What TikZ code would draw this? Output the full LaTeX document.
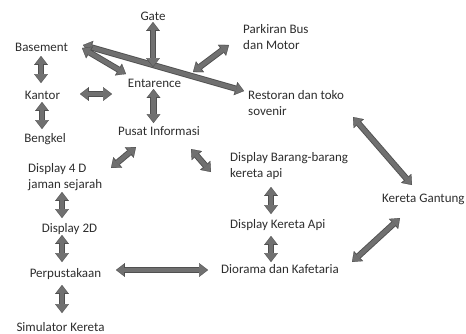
\documentclass[tikz,border=0pt]{standalone}
\usepackage{fontspec}
\setmainfont{Carlito}
\usepackage{tikz}
\usetikzlibrary{arrows.meta,calc}
\definecolor{ArrowFill}{RGB}{112,112,112}
\definecolor{ArrowEdge}{RGB}{80,80,80}
\definecolor{TextGray}{RGB}{45,45,45}
\tikzset{
  label/.style={inner sep=0.75pt, text=TextGray, font=\fontsize{13}{16}\selectfont},
  blockarr/.style={draw=ArrowFill, line width=4.4pt,
    {Triangle[width=11pt,length=7pt,line width=0.1pt]}-{Triangle[width=11pt,length=7pt,line width=0.1pt]},
    shorten <=0.9pt, shorten >=0.9pt,
    preaction={draw=ArrowEdge, line width=6.2pt, shorten <=0pt, shorten >=0pt,
      {Triangle[width=13.6pt,length=8.8pt,line width=0.1pt]}-{Triangle[width=13.6pt,length=8.8pt,line width=0.1pt]}}}
}

\begin{document}
\begin{tikzpicture}[x=1pt,y=1pt,yscale=-1,xscale=1]
\useasboundingbox (0,0) rectangle (466,333);

% Text Node
\node (gate) at (153,20) [label, anchor=base] {Gate};
% Text Node
\node (basement) at (14.25,51) [label, anchor=base west] {Basement};
% Text Node
\node (parkir) at (242.25,23.75) [label, anchor=north west, align=left] {Parkiran Bus\\dan Motor};
% Text Node
\node (entar) at (154.5,87) [label, anchor=base] {Entarence};
% Text Node
\node (kantor) at (42.5,99) [label, anchor=base] {Kantor};
% Text Node
\node (restoran) at (247.25,89.75) [label, anchor=north west, align=left] {Restoran dan toko\\sovenir};
% Text Node
\node (bengkel) at (45,142) [label, anchor=base] {Bengkel};
% Text Node
\node (pusat) at (159,135) [label, anchor=base] {Pusat Informasi};
% Text Node
\node (disp4d) at (27.25,162.25) [label, anchor=north west, align=left] {Display 4 D\\jaman sejarah};
% Text Node
\node (barang) at (229.25,151.75) [label, anchor=north west, align=left] {Display Barang-barang\\kereta api};
% Text Node
\node (gantung) at (381.25,202) [label, anchor=base west] {Kereta Gantung};
% Text Node
\node (disp2d) at (69.5,232) [label, anchor=base] {Display 2D};
% Text Node
\node (keretaapi) at (229.25,228) [label, anchor=base west] {Display Kereta Api};
% Text Node
\node (perpus) at (65.5,277) [label, anchor=base] {Perpustakaan};
% Text Node
\node (diorama) at (220.25,273) [label, anchor=base west] {Diorama dan Kafetaria};
% Text Node
\node (simul) at (60.5,331) [label, anchor=base] {Simulator Kereta};

%Block Arrows
\draw [blockarr] ($(basement.base west)+(68.75,-6)$) -- ($(restoran.north west)+(-3.25,1.25)$);
\draw [blockarr] ($(gate.base)+(0,2)$) -- ($(entar.base)+(-1.5,-20)$);
\draw [blockarr] ($(basement.base west)+(67.75,-3)$) -- ($(entar.base)+(-28.5,-13)$);
\draw [blockarr] ($(entar.base)+(38.5,-15)$) -- ($(parkir.north west)+(-13.25,21.25)$);
\draw [blockarr] ($(basement.base west)+(26.75,5)$) -- ($(kantor.base)+(-1.5,-16)$);
\draw [blockarr] ($(kantor.base)+(-0.5,3)$) -- ($(bengkel.base)+(-3,-13)$);
\draw [blockarr] ($(kantor.base)+(37.5,-5)$) -- ($(entar.base)+(-42.5,7)$);
\draw [blockarr] ($(entar.base)+(-1,2)$) -- ($(pusat.base)+(-5.5,-12)$);
\draw [blockarr] ($(pusat.base)+(-23,12)$) -- ($(disp4d.north west)+(83.75,5.75)$);
\draw [blockarr] ($(pusat.base)+(32,14)$) -- ($(barang.north west)+(-18.25,20.25)$);
\draw [blockarr] ($(restoran.north west)+(105.75,27.25)$) -- ($(gantung.base west)+(30.75,-17)$);
\draw [blockarr] ($(barang.north west)+(41.75,35.25)$) -- ($(keretaapi.base west)+(41.75,-14)$);
\draw [blockarr] ($(keretaapi.base west)+(41.75,8)$) -- ($(diorama.base west)+(50.75,-11)$);
\draw [blockarr] ($(diorama.base west)+(131.75,-11)$) -- ($(gantung.base west)+(18.75,16)$);
\draw [blockarr] ($(disp4d.north west)+(34.75,29.75)$) -- ($(disp2d.base)+(-7.5,-14)$);
\draw [blockarr] ($(disp2d.base)+(-7.5,3)$) -- ($(perpus.base)+(-3.5,-15)$);
\draw [blockarr] ($(perpus.base)+(50.5,-7)$) -- ($(diorama.base west)+(-12.25,-3)$);
\draw [blockarr] ($(perpus.base)+(-3.5,8)$) -- ($(simul.base)+(1.5,-18)$);

\end{tikzpicture}
\end{document}
